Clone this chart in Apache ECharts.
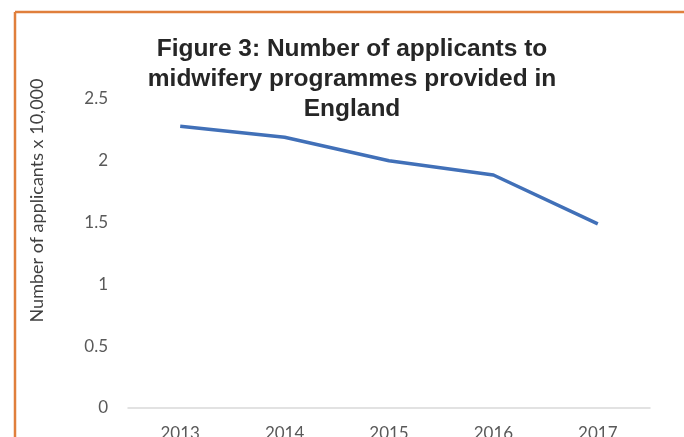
<!DOCTYPE html>
<html>
<head>
<meta charset="utf-8">
<script src="https://cdn.jsdelivr.net/npm/echarts@6/dist/echarts.min.js"></script>
<style>
  html, body { margin: 0; padding: 0; background: #fff; overflow: hidden; }
  #chart { width: 684px; height: 437px; }
</style>
</head>
<body>
<div id="chart"></div>
<script>
// Applicants to midwifery programmes in England, in units of 10,000
const years = ['2013', '2014', '2015', '2016', '2017'];
const applicants = [2.28, 2.19, 2.0, 1.885, 1.49];
const yTicks = { min: 0, max: 2.5, interval: 0.5 };

const labelFont = 'Lato, Open Sans, sans-serif';

const chart = echarts.init(document.getElementById('chart'));
chart.setOption({
  backgroundColor: '#ffffff',
  animation: false,
  title: {
    text: 'Figure 3: Number of applicants to\nmidwifery programmes provided in\nEngland',
    left: 347,
    top: 29,
    textAlign: 'center',
    textStyle: {
      fontFamily: 'Liberation Sans, Arial, sans-serif',
      fontWeight: 'bold',
      fontSize: 24.5,
      lineHeight: 30,
      color: '#262626'
    }
  },
  // frame edges along the top and left
  graphic: [
    { type: 'line', shape: { x1: 15, y1: 12, x2: 684, y2: 12 }, style: { stroke: '#e07f3c', lineWidth: 2.5 } },
    { type: 'line', shape: { x1: 15, y1: 12, x2: 15, y2: 437 }, style: { stroke: '#e07f3c', lineWidth: 2.5 } }
  ],
  // fixed plot area; the year labels run off the bottom edge
  grid: { left: 128, right: 34, top: 99, bottom: 29, containLabel: false, outerBoundsMode: 'none' },
  xAxis: {
    type: 'category',
    data: years,
    boundaryGap: true,
    axisLine: { lineStyle: { color: '#d9d9d9', width: 1.5 } },
    axisTick: { show: false },
    axisLabel: { margin: 17, fontFamily: labelFont, fontSize: 17, color: '#595959' }
  },
  yAxis: {
    type: 'value',
    min: yTicks.min,
    max: yTicks.max,
    interval: yTicks.interval,
    name: 'Number of applicants x 10,000',
    nameLocation: 'middle',
    nameRotate: 90,
    nameGap: 82,
    nameTextStyle: { fontFamily: labelFont, fontSize: 18, color: '#404040', padding: [0, 0, 0, 106] },
    axisLine: { show: false },
    axisTick: { show: false },
    splitLine: { show: false },
    axisLabel: { margin: 20, fontFamily: labelFont, fontSize: 17, color: '#595959' }
  },
  series: [{
    type: 'line',
    data: applicants,
    showSymbol: false,
    lineStyle: { color: '#4170b8', width: 3.5 }
  }]
});
</script>
</body>
</html>
